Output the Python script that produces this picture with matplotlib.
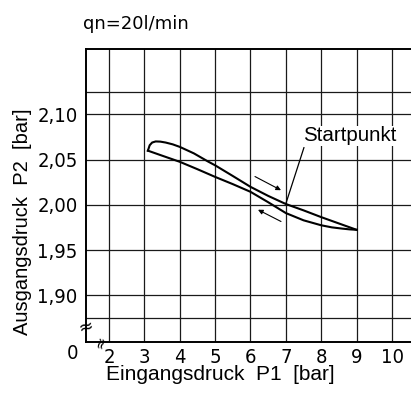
import matplotlib
matplotlib.use("Agg")
import matplotlib.pyplot as plt
from matplotlib.font_manager import FontProperties
import numpy as np

# ---- data ----
x_ticks = [2, 3, 4, 5, 6, 7, 8, 9, 10]
x_ticklabels = ["2", "3", "4", "5", "6", "7", "8", "9", "10"]
y_ticks = [1.90, 1.95, 2.00, 2.05, 2.10]
y_ticklabels = ["1,90", "1,95", "2,00", "2,05", "2,10"]
y_extra_grid = [1.875, 2.125]

# upper branch (rising pressure, passes the start point)
upper_x = [3.10, 3.15, 3.22, 3.32, 3.45, 3.60, 3.80, 4.00, 4.40, 4.80, 5.00, 5.50, 6.00, 6.50, 7.00, 7.50, 8.00, 8.50, 9.00]
upper_y = [2.060, 2.066, 2.069, 2.0702, 2.0700, 2.0690, 2.0670, 2.0642, 2.0570, 2.0480, 2.0438, 2.0320, 2.0200, 2.0100, 2.0010, 1.9940, 1.9865, 1.9795, 1.9725]
# lower branch (falling pressure)
lower_x = [3.10, 3.50, 4.00, 4.50, 5.00, 5.50, 6.00, 6.50, 7.00, 7.50, 8.00, 8.30, 8.60, 8.80, 9.00]
lower_y = [2.060, 2.0545, 2.0477, 2.0395, 2.0310, 2.0230, 2.0145, 2.0030, 1.9910, 1.9830, 1.9775, 1.9752, 1.9738, 1.9730, 1.9725]

title_text = "qn=20l/min"
xlabel_text = "Eingangsdruck  P1  [bar]"
ylabel_text = "Ausgangsdruck  P2  [bar]"
start_label = "Startpunkt"

plt.rcParams['font.family'] = ['Liberation Sans', 'DejaVu Sans']
narrow = FontProperties(family='DejaVu Sans', stretch='condensed', size=14.5)

fig = plt.figure(figsize=(4.11, 4.01), dpi=100)
ax = fig.add_axes([86/411, 59.3/401, 325/411, 292.7/401])
ax.set_xlim(1.35, 10.537)
ax.set_ylim(1.8488, 2.1724)

grid_kw = dict(color='#1a1a1a', lw=0.9, zorder=1)
for xv in x_ticks:
    ax.axvline(xv, **grid_kw)
for yv in y_ticks + y_extra_grid:
    ax.axhline(yv, **grid_kw)

for side in ['left', 'bottom', 'top']:
    ax.spines[side].set_linewidth(1.4)
    ax.spines[side].set_color('black')
ax.spines['right'].set_visible(False)

ax.set_xticks(x_ticks)
ax.set_xticklabels(x_ticklabels, fontproperties=narrow)
ax.set_yticks(y_ticks)
ax.set_yticklabels(y_ticklabels, fontproperties=narrow)
ax.tick_params(axis='both', length=0)
ax.tick_params(axis='x', pad=4.5)
ax.tick_params(axis='y', pad=6)

# "0" at axis origin
ax.text(-0.025, -0.008, "0", transform=ax.transAxes, ha='right', va='top',
        fontproperties=narrow)

# break marks
ax.text(1.35, 1.8643, "≈", ha='center', va='center', fontsize=13, rotation=15,
        family=['DejaVu Sans'], clip_on=False, zorder=5)
ax.text(1.746, 1.8488, "≈", ha='center', va='center', fontsize=11, rotation=75,
        family=['DejaVu Sans'], clip_on=False, zorder=5)

# curves
ax.plot(upper_x, upper_y, color='black', lw=1.5, zorder=3, solid_joinstyle='round')
ax.plot(lower_x, lower_y, color='black', lw=1.5, zorder=3, solid_joinstyle='round')

# direction arrows
arr = dict(arrowstyle='-|>', color='black', lw=0.8, mutation_scale=7,
           shrinkA=0, shrinkB=0)
ax.annotate("", xy=(6.862, 2.0163), xytext=(6.127, 2.0314), arrowprops=arr)
ax.annotate("", xy=(6.212, 1.9947), xytext=(6.862, 1.9817), arrowprops=arr)

# Startpunkt label and leader
ax.plot([7.0, 7.51], [2.0015, 2.0633], color='black', lw=0.9, zorder=3)
ax.text(7.476, 2.0705, start_label, ha='left', va='baseline', fontsize=14.8,
        bbox=dict(facecolor='white', edgecolor='none', pad=0.5), zorder=4)

ax.set_xlabel(xlabel_text, fontsize=15)
ax.xaxis.set_label_coords((220 - 86) / 325, -(375 - 341.7) / 292.7)
ax.xaxis.label.set_va('center')
ax.set_ylabel(ylabel_text, fontsize=14.5)
ax.yaxis.set_label_coords((23 - 86) / 325, (341.7 - 221.5) / 292.7)
ax.yaxis.label.set_va('center')

fig.text(83/411, 1 - 29/401, title_text, ha='left', va='baseline',
         family=['DejaVu Sans'], fontsize=13)

fig.savefig("out.png", dpi=100)
